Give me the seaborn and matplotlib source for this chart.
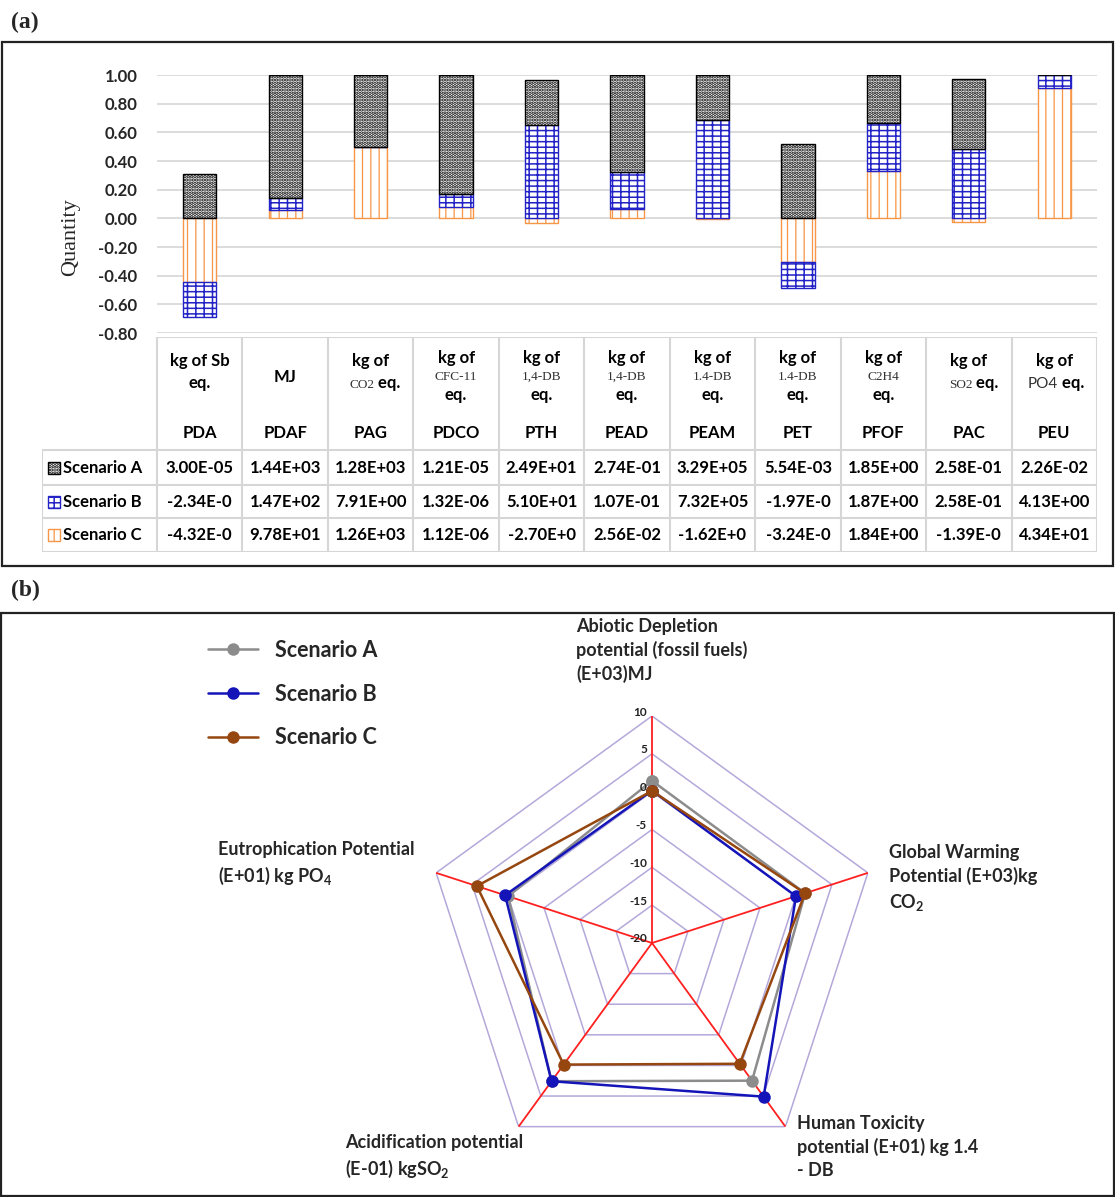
import numpy as np
import matplotlib
matplotlib.use("Agg")
import matplotlib.pyplot as plt
import matplotlib.patches as mpatches
from matplotlib.transforms import offset_copy
import seaborn as sns

# ---- data, panel (a) ----
categories = ["PDA", "PDAF", "PAG", "PDCO", "PTH", "PEAD", "PEAM", "PET", "PFOF", "PAC", "PEU"]
scenario_a = [3.00e-05, 1.44e+03, 1.28e+03, 1.21e-05, 2.49e+01, 2.74e-01, 3.29e+05, 5.54e-03, 1.85e+00, 2.58e-01, 2.26e-02]
scenario_b = [-2.34e-05, 1.47e+02, 7.91e+00, 1.32e-06, 5.10e+01, 1.07e-01, 7.32e+05, -1.97e-03, 1.87e+00, 2.58e-01, 4.13e+00]
scenario_c = [-4.32e-05, 9.78e+01, 1.26e+03, 1.12e-06, -2.70e+00, 2.56e-02, -1.62e+03, -3.24e-03, 1.84e+00, -1.39e-02, 4.34e+01]
scenario_names = ["Scenario A", "Scenario B", "Scenario C"]

# header units: each line is a list of (text, style) pieces
unit_lines = [
    [[("kg of Sb", "b")], [("eq.", "b")]],
    [[("MJ", "b")]],
    [[("kg of", "b")], [("CO2", "s"), (" eq.", "b")]],
    [[("kg of", "b")], [("CFC-11", "s")], [("eq.", "b")]],
    [[("kg of", "b")], [("1,4-DB", "s")], [("eq.", "b")]],
    [[("kg of", "b")], [("1,4-DB", "s")], [("eq.", "b")]],
    [[("kg of", "b")], [("1.4-DB", "s")], [("eq.", "b")]],
    [[("kg of", "b")], [("1.4-DB", "s")], [("eq.", "b")]],
    [[("kg of", "b")], [("C2H4", "s")], [("eq.", "b")]],
    [[("kg of", "b")], [("SO2", "s"), (" eq.", "b")]],
    [[("kg of", "b")], [("PO4", "r"), (" eq.", "b")]],
]

# ---- data, panel (b) ----
radar_labels = [
    "Abiotic Depletion\npotential (fossil fuels)\n(E+03)MJ",
    "Global Warming\nPotential (E+03)kg\nCO$_\\mathbf{2}$",
    "Human Toxicity\npotential (E+01) kg 1.4\n- DB",
    "Acidification potential\n(E-01) kgSO$_\\mathbf{2}$",
    "Eutrophication Potential\n(E+01) kg PO$_\\mathbf{4}$",
]
radar_a = [1.44, 1.28, 2.49, 2.58, 0.00226]
radar_b = [0.147, 0.00791, 5.10, 2.58, 0.413]
radar_c = [0.0978, 1.26, -0.270, -0.139, 4.34]
radar_ticks = [10, 5, 0, -5, -10, -15, -20]

sns.set_style("white")
plt.rcParams["font.family"] = ["Lato", "DejaVu Sans"]
plt.rcParams["mathtext.fontset"] = "custom"
plt.rcParams["mathtext.rm"] = "Lato"
plt.rcParams["mathtext.bf"] = "Lato:bold"
plt.rcParams["hatch.linewidth"] = 1.0

W, H = 1115, 1197
fig = plt.figure(figsize=(W / 100, H / 100), dpi=100)


def fx(px):
    return px / W


def fy(py):
    return 1 - py / H


BLUE = "#2222c6"
ORANGE = "#f79646"
styles = {
    "Scenario A": dict(color="white", edgecolor="black", hatch="....."),
    "Scenario B": dict(color="white", edgecolor=BLUE, hatch="---||"),
    "Scenario C": dict(color="white", edgecolor=ORANGE, hatch="||"),
}
hatch_lw = {"Scenario A": 1.7, "Scenario B": 1.1, "Scenario C": 0.9}

# panel frames and letters
fig.add_artist(mpatches.Rectangle((fx(2), fy(566)), fx(1111), 524 / H, transform=fig.transFigure,
                                  fill=False, edgecolor="#222222", lw=1.6))
fig.add_artist(mpatches.Rectangle((fx(1), fy(1196)), fx(1113), 583 / H, transform=fig.transFigure,
                                  fill=False, edgecolor="#222222", lw=1.6))
fig.text(fx(11), fy(22), "(a)", family="Liberation Serif", weight="bold", fontsize=17, va="center")
fig.text(fx(11), fy(590), "(b)", family="Liberation Serif", weight="bold", fontsize=17, va="center")

# ---- (a) stacked bars: shares of the sum of absolute values ----
ax = fig.add_axes([fx(157), fy(333), 940 / W, 258 / H])
values = np.array([scenario_c, scenario_b, scenario_a])
shares = values / np.abs(values).sum(axis=0)
stack_names = ["Scenario C", "Scenario B", "Scenario A"]
pos_base = np.zeros(len(categories))
neg_base = np.zeros(len(categories))
for name, s in zip(stack_names, shares):
    bottom = np.where(s >= 0, pos_base, neg_base)
    n_before = len(ax.patches)
    sns.barplot(x=categories, y=s, order=categories, bottom=bottom, width=0.39,
                saturation=1, errorbar=None, linewidth=1, ax=ax, **styles[name])
    for p in ax.patches[n_before:]:
        if hasattr(p, "set_hatch_linewidth"):
            p.set_hatch_linewidth(hatch_lw[name])
    pos_base += np.clip(s, 0, None)
    neg_base += np.clip(s, None, 0)

ax.set_ylim(-0.8, 1.0)
yt = [round(t, 2) + 0.0 for t in np.linspace(-0.8, 1.0, 10)]
ax.set_yticks(yt)
ax.set_yticklabels([f"{t:.2f}" for t in yt], fontsize=12, fontweight="bold")
ax.tick_params(axis="y", length=0, pad=14)
ax.set_xticks([])
ax.set_xlabel("")
ax.set_xlim(-0.5, len(categories) - 0.5)
ax.grid(axis="y", color="#d9d9d9", lw=1.3)
ax.set_axisbelow(True)
for sp in ax.spines.values():
    sp.set_visible(False)
ax.set_ylabel("Quantity", family="Liberation Serif", fontsize=16)
ax.yaxis.set_label_coords(-0.082, 0.37)

# ---- (a) data table ----
n = len(categories)
col_px = 940 / n
label_w = (157 - 42) / col_px
x_left = -0.5 - label_w
tab = fig.add_axes([fx(42), fy(552), (1097 - 42) / W, (552 - 337) / H])
tab.set_xlim(x_left, n - 0.5)
tab.set_ylim(215, 0)
tab.axis("off")

grid_kw = dict(color="#d6d6d6", lw=1.5)
row_edges = [113, 148, 181, 215]
row_mid = [131, 165, 198]
tab.hlines(0, -0.5, n - 0.5, **grid_kw)
tab.hlines(row_edges, x_left, n - 0.5, **grid_kw)
tab.vlines(np.arange(n + 1) - 0.5, 0, 215, **grid_kw)
tab.vlines(x_left, 113, 215, **grid_kw)

fonts = {
    "b": dict(family="Lato", weight="bold", fontsize=12, color="black"),
    "s": dict(family="Liberation Serif", fontsize=9.5, color="#333333"),
    "r": dict(family="Lato", fontsize=11, color="#333333"),
}
line_y = {1: [40], 2: [24, 46], 3: [21, 40, 58]}
for i, lines in enumerate(unit_lines):
    for y, segs in zip(line_y[len(lines)], lines):
        if len(segs) == 1:
            t, st = segs[0]
            tab.text(i, y, t, ha="center", va="center", **fonts[st])
        else:
            (t1, s1), (t2, s2) = segs
            tab.text(i + 0.04, y + 5, t1, ha="right", va="baseline", **fonts[s1])
            tab.text(i + 0.04, y + 5, t2, ha="left", va="baseline", **fonts[s2])
    tab.text(i, 96, categories[i], ha="center", va="center", **fonts["b"])

for r, (name, vals) in enumerate(zip(scenario_names, [scenario_a, scenario_b, scenario_c])):
    y = row_mid[r]
    st = styles[name]
    icon = mpatches.Rectangle((x_left + 6 / col_px, y - 6), 12 / col_px, 12,
                              facecolor="white", edgecolor=st["edgecolor"],
                              hatch=st["hatch"], lw=1)
    if hasattr(icon, "set_hatch_linewidth"):
        icon.set_hatch_linewidth(hatch_lw[name])
    tab.add_patch(icon)
    tab.text(x_left + 21 / col_px, y, name, ha="left", va="center", **fonts["b"])
    for i, v in enumerate(vals):
        tab.text(i, y, f"{v:.2E}"[:8], ha="center", va="center", **fonts["b"])

# ---- (b) radar ----
rax = fig.add_axes([fx(425), fy(1170), 454 / W, 454 / H], projection="polar")
rax.set_theta_offset(np.pi / 2)
rax.set_theta_direction(-1)
rax.set_ylim(-20, 10)
rax.grid(False)
rax.set_xticks([])
rax.set_yticks([])
rax.spines["polar"].set_visible(False)
rax.patch.set_alpha(0)

k = len(radar_labels)
theta = np.linspace(0, 2 * np.pi, k + 1)
for lev in radar_ticks[:-1]:
    rax.plot(theta, [lev] * (k + 1), color="#b4a8da", lw=1.1, zorder=1)
for th in theta[:-1]:
    rax.plot([th, th], [-20, 10], color="#ff2020", lw=1.3, zorder=2)

series = [("Scenario A", radar_a, "#8c8c8c"),
          ("Scenario B", radar_b, "#1414b8"),
          ("Scenario C", radar_c, "#964710")]
for name, vals, col in series:
    sns.lineplot(x=theta, y=list(vals) + [vals[0]], sort=False, errorbar=None, ax=rax,
                 color=col, lw=1.8, marker="o", markersize=9, markeredgewidth=0,
                 label=name, zorder=3)
rax.set_xlabel("")
rax.set_ylabel("")

tick_tr = offset_copy(rax.transData, fig=fig, x=-5, y=4, units="dots")
for lev in radar_ticks:
    rax.text(0, lev, str(lev), transform=tick_tr, ha="right", va="center",
             fontsize=8.5, fontweight="bold", color="#222222")

handles, labels = rax.get_legend_handles_labels()
rax.legend(handles, labels, loc="upper left", bbox_to_anchor=(fx(208), fy(640)),
           bbox_transform=fig.transFigure, frameon=False,
           prop=dict(family="Lato", weight="bold", size=15.5),
           handlelength=2.3, handletextpad=0.8, labelspacing=1.05,
           borderpad=0, borderaxespad=0)

label_pos = [(576, 618), (889, 844), (797, 1115), (345, 1134), (218, 841)]
for (px, py), txt in zip(label_pos, radar_labels):
    fig.text(fx(px), fy(py), txt, ha="left", va="top", fontsize=13,
             fontweight="bold", linespacing=1.4)

fig.savefig("out.png", dpi=100)
